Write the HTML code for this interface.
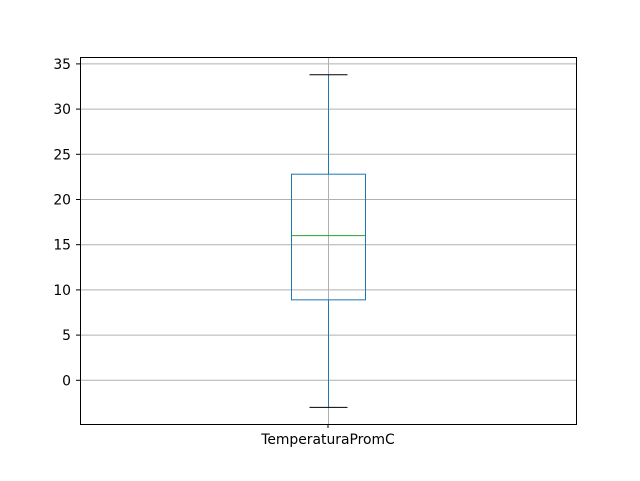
<!DOCTYPE html>
<html><head><meta charset="utf-8"><style>
body{margin:0;background:#fff}
svg text{font-family:"DejaVu Sans","Liberation Sans",sans-serif;font-size:13.9px;fill:#000}
</style></head><body>
<svg width="640" height="476" viewBox="0 0 640 476">
<g id="grid"></g>
<g id="box"></g>
<rect x="80.5" y="57.5" width="496" height="367" fill="none" stroke="#000" stroke-width="1"/>
<g id="ticks"></g>
<line x1="328" y1="424" x2="328" y2="428" stroke="#000"/>
<text x="328" y="444" text-anchor="middle">TemperaturaPromC</text>
</svg>
<script>
const yTicks=[0,5,10,15,20,25,30,35];
const whiskerLow=[-3.0];
const q1=[8.9];
const median=[16.0];
const q3=[22.8];
const whiskerHigh=[33.8];
const ns="http://www.w3.org/2000/svg";
function y(v){return 380.3-(v-0)*9.04;}
const cx=328.5;
function mk(t,a,p){const e=document.createElementNS(ns,t);for(const k in a)e.setAttribute(k,a[k]);p.appendChild(e);return e;}
const g=document.getElementById('grid'),tk=document.getElementById('ticks'),b=document.getElementById('box');
yTicks.forEach(v=>{
 const l=mk('line',{x1:80,x2:576,y1:y(v),y2:y(v),stroke:'#b0b0b0','stroke-width':1},g);
 
 
 const t=mk('line',{x1:76,x2:80,y1:y(v),y2:y(v),stroke:'#000'},tk);
 
 
 const tx=mk('text',{x:71,y:y(v)+5,'text-anchor':'end'},tk);tx.textContent=v;
 
 
});
const vg=mk('line',{x1:cx,x2:cx,y1:57,y2:424,stroke:'#b0b0b0'},g);


const i=0;
const w1=mk('line',{x1:cx,x2:cx,y1:y(q1[i]),y2:y(whiskerLow[i]),stroke:'#1f77b4'},b);


const w2=mk('line',{x1:cx,x2:cx,y1:y(q3[i]),y2:y(whiskerHigh[i]),stroke:'#1f77b4'},b);


const c1=mk('line',{x1:cx-19,x2:cx+19,y1:y(whiskerLow[i]),y2:y(whiskerLow[i]),stroke:'#000'},b);


const c2=mk('line',{x1:cx-19,x2:cx+19,y1:y(whiskerHigh[i]),y2:y(whiskerHigh[i]),stroke:'#000'},b);


const r=mk('rect',{x:cx-37,y:y(q3[i]),width:74,height:y(q1[i])-y(q3[i]),fill:'none',stroke:'#1f77b4'},b);


const m=mk('line',{x1:cx-37,x2:cx+37,y1:y(median[i]),y2:y(median[i]),stroke:'#2ca02c'},b);


</script>
</body></html>
